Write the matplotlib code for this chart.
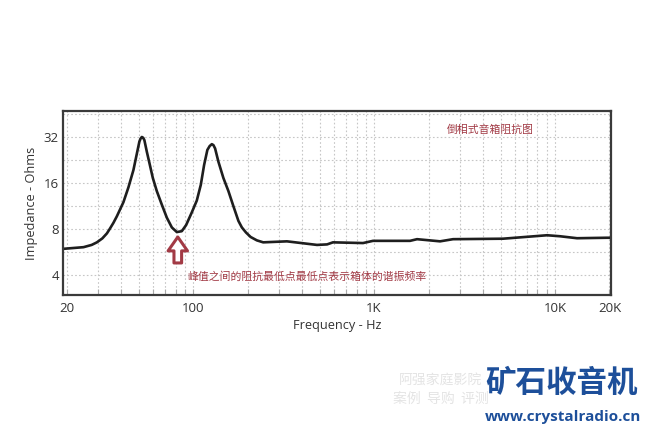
import numpy as np
import matplotlib
matplotlib.use('Agg')
import matplotlib.pyplot as plt
from matplotlib.ticker import FixedLocator, LogLocator, NullFormatter

plt.rcParams['font.family'] = ['Open Sans', 'Noto Sans CJK SC', 'DejaVu Sans']

# === DATA ===
freq = [19.2, 24.8, 27.5, 29.4, 31.5, 33.4, 34.8, 36.3, 37.9, 41.2, 43.9, 46.8, 48.9,
        50.5, 51.3, 52.1, 53.0, 53.8, 55.5, 57.4, 59.9, 63.0, 67.1, 71.6, 76.3,
        81.3, 86.6, 91.5, 98.4, 104.8, 110.3, 115.0, 119.9, 123.5, 126.9, 129.5,
        132.3, 138.0, 147.0, 156.7, 167.0, 178.0, 186, 196, 208, 225, 244, 330,
        484, 550, 593, 869, 987, 1581, 1728, 2316, 2732, 5160, 9040, 10660,
        13240, 19370, 20400]
impedance = [5.94, 6.09, 6.3, 6.55, 6.95, 7.5, 8.1, 8.8, 9.7, 12.0, 15.0, 19.5, 25.0,
             30.0, 31.4, 32.1, 31.7, 30.6, 25.7, 21.6, 17.3, 14.2, 11.6, 9.5, 8.2,
             7.65, 7.75, 8.5, 10.3, 12.3, 15.6, 21.0, 26.4, 28.0, 28.8, 28.4,
             27.0, 22.1, 17.3, 14.2, 11.3, 9.05, 8.2, 7.6, 7.1, 6.75, 6.55, 6.65,
             6.30, 6.35, 6.55, 6.48, 6.70, 6.70, 6.87, 6.65, 6.87, 6.92, 7.29, 7.18,
             6.97, 7.02, 7.02]

x_ticks = [20, 100, 1000, 10000, 20000]
x_labels = ['20', '100', '1K', '10K', '20K']
y_ticks = [4, 8, 16, 32]

title_cn = '倒相式音箱阻抗图'
note_cn = '峰值之间的阻抗最低点最低点表示箱体的谐振频率'
dip_freq = 82.3
RED = '#a23a45'

fig = plt.figure(figsize=(6.5, 4.3), dpi=100)
ax = fig.add_axes([63 / 650, 135 / 430, 548 / 650, 184 / 430])

ax.plot(freq, impedance, color='#1e1e1e', lw=1.9, solid_capstyle='round',
        solid_joinstyle='round')

ax.set_xscale('log')
ax.set_yscale('log', base=2)
ax.set_xlim(19.1, 20390)
ax.set_ylim(2.96, 47.5)

ax.xaxis.set_major_locator(FixedLocator(x_ticks))
ax.set_xticklabels(x_labels)
ax.xaxis.set_minor_locator(LogLocator(base=10, subs=np.arange(2, 10)))
ax.xaxis.set_minor_formatter(NullFormatter())
ax.yaxis.set_major_locator(FixedLocator(y_ticks))
ax.set_yticklabels([str(v) for v in y_ticks])
ax.yaxis.set_minor_locator(FixedLocator([v * np.sqrt(2) for v in y_ticks]))
ax.yaxis.set_minor_formatter(NullFormatter())

grid_kw = dict(color='#c6c6c6', lw=0.8, ls=(0, (1.5, 2)))
ax.grid(True, which='both', axis='both', **grid_kw)
ax.set_axisbelow(True)

ax.tick_params(axis='x', which='both', direction='in', length=4, width=0.8,
               color='#aaaaaa', labelsize=9.5, labelcolor='#333333', pad=5)
ax.tick_params(axis='y', which='both', length=0, labelsize=9.5,
               labelcolor='#333333', pad=3)

for s in ax.spines.values():
    s.set_color('#3a3a3a')
    s.set_linewidth(1.6)

ax.set_xlabel('Frequency - Hz', fontsize=9.2, color='#333333', labelpad=3)
ax.set_ylabel('Impedance - Ohms', fontsize=9.2, color='#333333', labelpad=4)

# red annotations
ax.text(0.78, 0.90, title_cn, transform=ax.transAxes, fontsize=7.8, color=RED,
        ha='center', va='center', family=['Noto Sans CJK SC', 'DejaVu Sans'])
ax.text(0.227, 0.098, note_cn, transform=ax.transAxes, fontsize=7.8, color=RED,
        ha='left', va='center', family=['Noto Sans CJK SC', 'DejaVu Sans'])
ax.annotate('', xy=(dip_freq, 7.1), xytext=(dip_freq, 4.8),
            arrowprops=dict(arrowstyle='simple,head_length=10,head_width=14,tail_width=5.5',
                            fc='white', ec=RED, lw=2.2, mutation_scale=1,
                            shrinkA=0, shrinkB=0))

# watermark
fig.text(441 / 650, 1 - 380 / 430, '阿强家庭影院', fontsize=10, color='#e4e4e4',
         ha='center', va='center', family=['Noto Sans CJK SC'])
fig.text(441 / 650, 1 - 399 / 430, '案例  导购  评测', fontsize=10, color='#e4e4e4',
         ha='center', va='center', family=['Noto Sans CJK SC'])
fig.text(562 / 650, 1 - 383 / 430, '矿石收音机', fontsize=22, color='#1d4f9a',
         fontweight='bold', ha='center', va='center', family=['Noto Sans CJK SC'])
fig.text(563 / 650, 1 - 417 / 430, 'www.crystalradio.cn', fontsize=11, color='#1d4f9a',
         fontweight='bold', ha='center', va='center', family=['Open Sans', 'DejaVu Sans'])

fig.savefig('out.png', dpi=100, facecolor='white')
